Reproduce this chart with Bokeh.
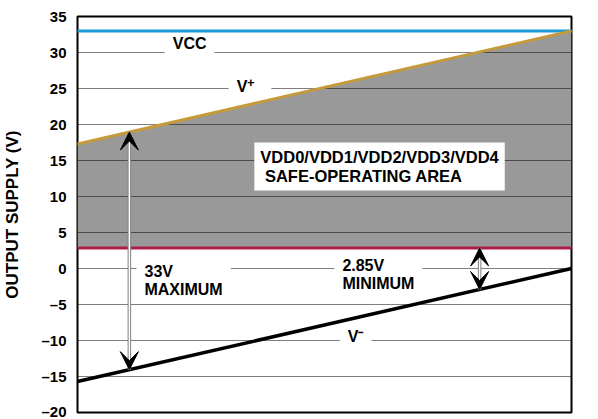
import numpy as np
from bokeh.plotting import figure
from bokeh.models import Range1d, FixedTicker, Label, Arrow, VeeHead
from bokeh.embed import file_html
from bokeh.resources import INLINE

# ---- data ----
x_pos = [0.0, 1.0]
v_plus = [17.3, 33.0]
v_minus = [-15.7, 0.0]
vcc = [33.0, 33.0]
vdd_min = [2.85, 2.85]
y_ticks = [-20, -15, -10, -5, 0, 5, 10, 15, 20, 25, 30, 35]
arrow_x = [0.105, 0.814]

FONT = "Liberation Sans"

p = figure(width=598, height=419,
           x_range=Range1d(0, 1), y_range=Range1d(-20, 35),
           output_backend="svg", toolbar_location=None,
           min_border_left=77, min_border_right=27, min_border_top=16, min_border_bottom=7)
p.background_fill_color = "white"
p.border_fill_color = "white"
p.outline_line_color = "black"
p.outline_line_width = 2

p.xaxis.visible = False
p.xgrid.visible = False

ax = p.yaxis[0]
ax.ticker = FixedTicker(ticks=y_ticks)
ax.major_label_overrides = {t: (("\u2013" + str(abs(t))) if t < 0 else str(t)) for t in y_ticks}
ax.major_tick_line_color = None
ax.minor_tick_line_color = None
ax.axis_line_color = None
ax.major_tick_out = 0
ax.major_tick_in = 0
ax.major_label_standoff = 11
ax.major_label_text_font = FONT
ax.major_label_text_font_style = "bold"
ax.major_label_text_font_size = "15px"
ax.major_label_text_color = "black"
ax.axis_label = "OUTPUT SUPPLY (V)"
ax.axis_label_text_font = FONT
ax.axis_label_text_font_style = "bold"
ax.axis_label_text_font_size = "17px"
ax.axis_label_text_color = "black"
ax.axis_label_standoff = 16

p.ygrid.ticker = FixedTicker(ticks=y_ticks)
p.ygrid.grid_line_color = "black"
p.ygrid.grid_line_alpha = 0.5
p.ygrid.grid_line_width = 1
p.ygrid.level = "glyph"

# safe operating area
p.varea(x=x_pos, y1=vdd_min, y2=v_plus, fill_color="#999999", level="underlay")

# lines
p.line(x_pos, vcc, line_color="#1a9ad6", line_width=3, level="overlay")
p.line(x_pos, v_plus, line_color="#c49a3c", line_width=3, level="overlay")
p.line(x_pos, vdd_min, line_color="#b01c46", line_width=3, level="overlay")
p.line(x_pos, v_minus, line_color="black", line_width=3.5, level="overlay")

# arrows
a_top = [float(np.interp(arrow_x[0], x_pos, v_plus)), vdd_min[0]]
a_bot = [float(np.interp(arrow_x[0], x_pos, v_minus)), float(np.interp(arrow_x[1], x_pos, v_minus))]
p.segment(x0=arrow_x, y0=a_top, x1=arrow_x, y1=a_bot, line_color="#808080", line_width=3.5, level="overlay")
p.segment(x0=arrow_x, y0=a_top, x1=arrow_x, y1=a_bot, line_color="white", line_width=1.5, level="overlay")
for i in range(2):
    p.add_layout(Arrow(x_start=arrow_x[i], y_start=a_bot[i], x_end=arrow_x[i], y_end=a_top[i],
                       start=VeeHead(size=18, fill_color="black", line_color="black", line_width=1),
                       end=VeeHead(size=18, fill_color="black", line_color="black", line_width=1),
                       line_alpha=0, level="overlay"))

def lab(x, y, text, align="center", pad=(8, 3), bg="white", size="16px", yoff=0):
    l = Label(x=x, y=y, text=text, text_font=FONT, text_font_style="bold",
              text_font_size=size, text_color="black", text_align=align,
              text_baseline="middle", background_fill_color=bg,
              padding=pad, text_line_height=1.1, y_offset=yoff)
    p.add_layout(l)

lab(0.227, 31.25, "VCC")
lab(0.306, 25.28, "V\u2003", align="left")
lab(0.343, 25.28, "+", align="left", bg=None, pad=0, size="13px", yoff=4)
lab(0.563, -9.44, "V\u207b")
lab(0.358, 14.17, "VDD0/VDD1/VDD2/VDD3/VDD4\n\u00a0SAFE-OPERATING AREA", align="left", pad=(6, 5), size="16.5px")
lab(0.1194, -1.67, "33V\nMAXIMUM", align="left")
lab(0.520, -0.83, "2.85V\nMINIMUM", align="left")

# figure id, placed relative to the plot frame (screen units)
p.add_layout(Label(x=517, y=2, x_units="screen", y_units="screen", text="035",
                   angle=np.pi / 2, text_font=FONT, text_font_size="8px",
                   text_color="#777777", text_align="left", text_baseline="middle"))

open("out.html", "w").write(file_html(p, INLINE))
